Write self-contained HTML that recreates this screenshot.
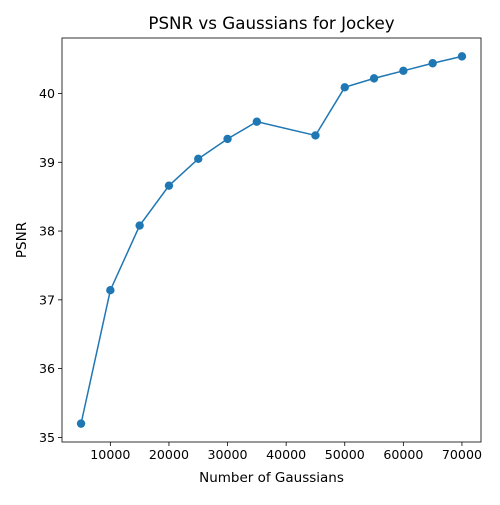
<!DOCTYPE html>
<html><head><meta charset="utf-8"><style>
body{margin:0;background:#fff;}
svg text{font-family:"DejaVu Sans","Liberation Sans",sans-serif;fill:#000;}
</style></head><body>
<svg id="chart" width="500" height="500"></svg>
<script>
const xValues=[5000,10000,15000,20000,25000,30000,35000,45000,50000,55000,60000,65000,70000];
const psnrValues=[35.2,37.14,38.08,38.66,39.05,39.34,39.59,39.39,40.09,40.22,40.33,40.44,40.54];
const xTicks=[10000,20000,30000,40000,50000,60000,70000];
const yTicks=[35,36,37,38,39,40];
const L=62,R=481,T=38,B=442;
const xMin=1750,xMax=73250,yMin=34.933,yMax=40.807;
const sx=v=>L+(v-xMin)/(xMax-xMin)*(R-L);
const sy=v=>B-(v-yMin)/(yMax-yMin)*(B-T);
const svg=document.getElementById('chart');
const NS='http://www.w3.org/2000/svg';
function mk(tag,attrs,parent){const e=document.createElementNS(NS,tag);for(const k in attrs)e.setAttribute(k,attrs[k]);(parent||svg).appendChild(e);return e;}
const title=mk('text',{x:(L+R)/2,y:29,'text-anchor':'middle','font-size':16.7});
title.textContent='PSNR vs Gaussians for Jockey';


xTicks.forEach(t=>{
  const g=mk('g',{});
  
  
  mk('line',{x1:sx(t),x2:sx(t),y1:B,y2:B+4,stroke:'#000','stroke-width':0.8},g);
  const tx=mk('text',{x:sx(t),y:B+17,'text-anchor':'middle','font-size':12.6},g);tx.textContent=t;
});
yTicks.forEach(t=>{
  const g=mk('g',{});
  
  
  mk('line',{x1:L-4,x2:L,y1:sy(t),y2:sy(t),stroke:'#000','stroke-width':0.8},g);
  const tx=mk('text',{x:L-7,y:sy(t)+4.5,'text-anchor':'end','font-size':12.6},g);tx.textContent=t;
});
const xl=mk('text',{x:(L+R)/2,y:482,'text-anchor':'middle','font-size':13.5});xl.textContent='Number of Gaussians';


const yl=mk('text',{x:26,y:(T+B)/2,'text-anchor':'middle','font-size':13.5,transform:`rotate(-90 26 ${(T+B)/2})`});yl.textContent='PSNR';


const line=mk('polyline',{points:xValues.map((x,i)=>sx(x)+','+sy(psnrValues[i])).join(' '),fill:'none',stroke:'#1f77b4','stroke-width':1.5});


xValues.forEach((x,i)=>{
  const c=mk('circle',{cx:sx(x),cy:sy(psnrValues[i]),r:4.2,fill:'#1f77b4'});
  
  
});
const frame=mk('rect',{x:L,y:T,width:R-L,height:B-T,fill:'none',stroke:'#000','stroke-width':0.8});


</script>
</body></html>
